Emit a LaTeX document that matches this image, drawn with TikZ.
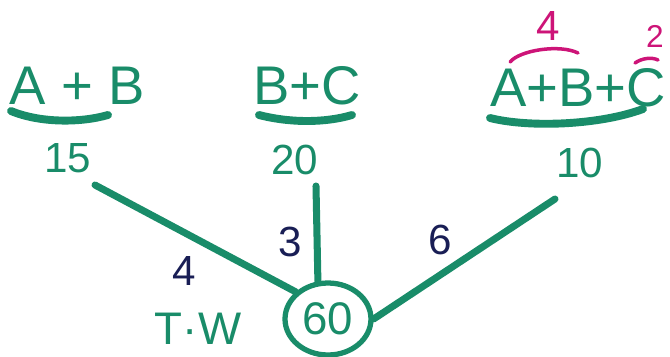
\documentclass[tikz,border=0pt]{standalone}
\usepackage{fontspec}
\setmainfont{Liberation Sans}
\usetikzlibrary{shapes.geometric}
\definecolor{mk}{RGB}{25,140,105}
\definecolor{nv}{RGB}{25,30,85}
\definecolor{pnk}{RGB}{205,20,120}

\begin{document}
\begin{tikzpicture}[x=0.02cm,y=-0.02cm,
    grp/.style={text=mk,font=\fontsize{31}{34}\selectfont,inner sep=0pt},
    num/.style={text=mk,font=\fontsize{24}{28}\selectfont,inner sep=0pt},
    wt/.style={text=nv,font=\fontsize{24}{28}\selectfont,inner sep=0pt},
    tag/.style={text=pnk,font=\fontsize{24}{28}\selectfont,inner sep=0pt},
    lnk/.style={draw=mk,line width=4pt,line cap=round},
    uline/.style={draw=mk,line width=4.5pt,line cap=round}]
    \useasboundingbox (0,0) rectangle (670,356);

    % groups
    \node[grp] (ab) at (77,86) {A + B};
    \node[grp] (bc) at (307,86) {B+C};
    \node[grp] (abc) at (578,88) {A+B+C};
    \draw[uline] (11,111) .. controls (40,123) and (80,123) .. (108,115);
    \draw[uline] (259,115) .. controls (290,123) and (325,123) .. (352,115);
    \draw[uline] (490,118) .. controls (530,128) and (600,125) .. (643,109);

    % efficiencies
    \node[tag] (e4) at (548,26) {4};
    \node[tag,font=\fontsize{18}{20}\selectfont] (e2) at (655,36) {2};
    \draw[draw=pnk,line width=2pt,line cap=round] (510,62) .. controls (520,50) and (560,44) .. (578,53);
    \draw[draw=pnk,line width=2pt,line cap=round] (635,63) .. controls (642,58) and (652,57) .. (658,60);

    % days
    \node[num] (d15) at (68,158) {15};
    \node[num] (d20) at (295,160) {20};
    \node[num] (d10) at (580,163) {10};

    % total work
    \node[ellipse,draw=mk,line width=3pt,minimum width=1.72cm,minimum height=1.44cm,
          inner sep=0pt,text=mk,font=\fontsize{26}{28}\selectfont] (tw) at (328,319) {60};
    \node[num,font=\fontsize{26}{28}\selectfont] (twl) at (198,329) {T·W};

    \coordinate (s15) at (95,185);
    \coordinate (s20) at (316,186);
    \coordinate (s10) at (555,199);
    \draw[lnk] (s15) -- (tw.140);
    \draw[lnk] (s20) -- (tw.105);
    \draw[lnk] (s10) -- (tw.0);

    % rates
    \node[wt] (w4) at (184,271) {4};
    \node[wt] (w3) at (290,242) {3};
    \node[wt] (w6) at (440,240) {6};
\end{tikzpicture}
\end{document}
